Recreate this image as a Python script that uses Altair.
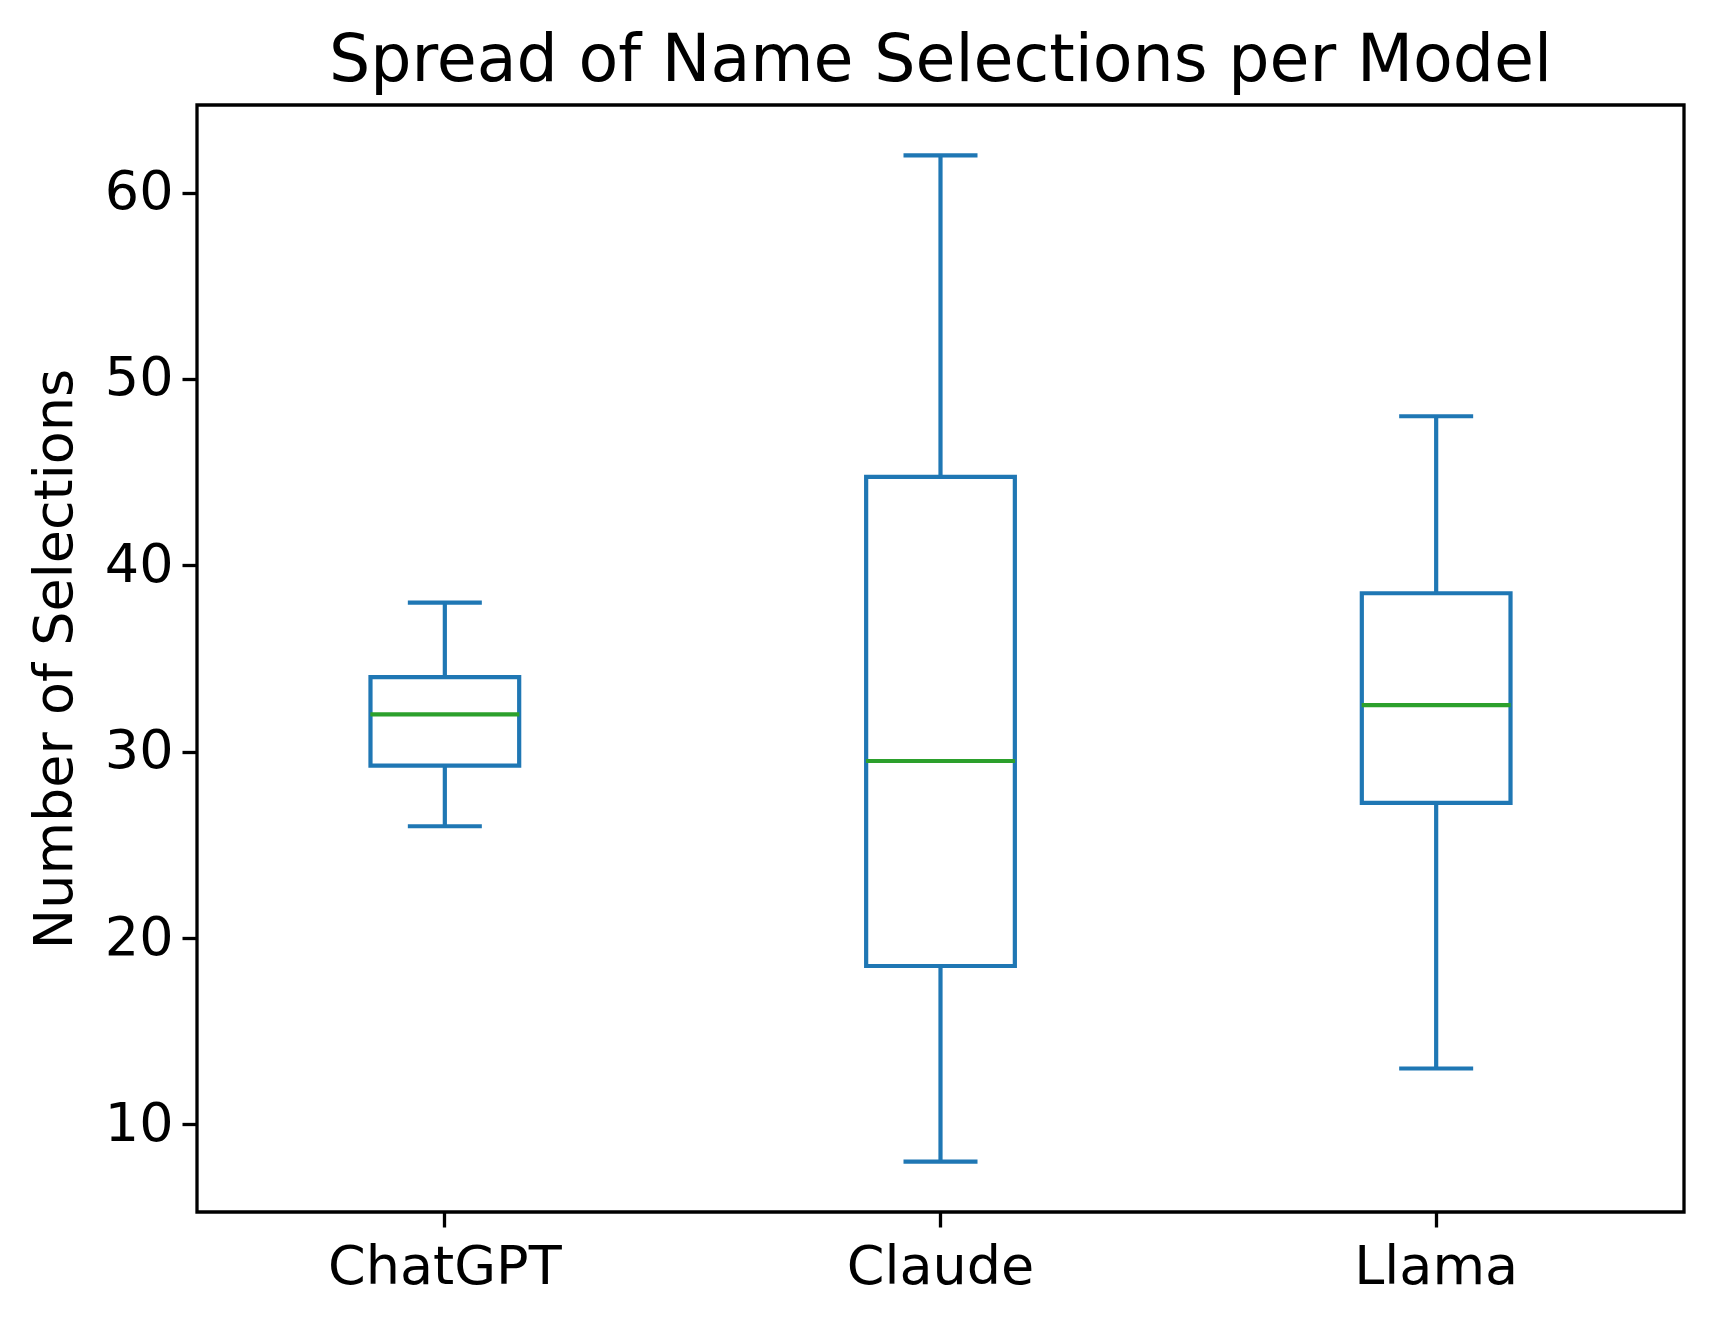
import altair as alt
import pandas as pd

models = ["ChatGPT", "Claude", "Llama"]
lower_whisker = [26, 8, 13]
q1 = [29.25, 18.5, 27.25]
median = [32, 29.5, 32.5]
q3 = [34, 44.75, 38.5]
upper_whisker = [38, 62, 48]
y_ticks = [10, 20, 30, 40, 50, 60]

df = pd.DataFrame({
    "model": models,
    "lower": lower_whisker,
    "q1": q1,
    "median": median,
    "q3": q3,
    "upper": upper_whisker,
})

BLUE = "#1f77b4"
GREEN = "#2ca02c"
FONT = "DejaVu Sans"
LW = 4.2

x_enc = alt.X(
    "model:N",
    sort=models,
    scale=alt.Scale(paddingInner=0.7, paddingOuter=0.35),
    axis=alt.Axis(
        title=None, labelAngle=0, labelFontSize=54, labelFont=FONT, labelColor="black",
        labelLimit=1000, tickSize=15, tickWidth=3.3, tickColor="black", labelPadding=13,
        domain=False, grid=False,
    ),
)
y_scale = alt.Scale(domain=[5.3, 64.7], nice=False, zero=False)
y_axis = alt.Axis(
    title="Number of Selections", values=y_ticks, titleFontSize=54, titleFont=FONT,
    titleFontWeight="normal", titleColor="black", titlePadding=22,
    labelFontSize=54, labelFont=FONT, labelColor="black", labelPadding=9,
    tickSize=15, tickWidth=3.3, tickColor="black", domain=False, grid=False,
)

base = alt.Chart(df)

whisker_low = base.mark_rule(color=BLUE, strokeWidth=LW).encode(
    x=x_enc, y=alt.Y("lower:Q", scale=y_scale, axis=y_axis), y2="q1:Q"
)
whisker_high = base.mark_rule(color=BLUE, strokeWidth=LW).encode(
    x=x_enc, y=alt.Y("q3:Q", scale=y_scale, axis=y_axis), y2="upper:Q"
)
box = base.mark_bar(fill="white", stroke=BLUE, strokeWidth=LW, opacity=1).encode(
    x=x_enc, y=alt.Y("q1:Q", scale=y_scale, axis=y_axis), y2="q3:Q"
)
med = base.mark_tick(color=GREEN, thickness=LW, size=149, opacity=1).encode(
    x=x_enc, y=alt.Y("median:Q", scale=y_scale, axis=y_axis)
)
cap_low = base.mark_tick(color=BLUE, thickness=LW, size=74, opacity=1).encode(
    x=x_enc, y=alt.Y("lower:Q", scale=y_scale, axis=y_axis)
)
cap_high = base.mark_tick(color=BLUE, thickness=LW, size=74, opacity=1).encode(
    x=x_enc, y=alt.Y("upper:Q", scale=y_scale, axis=y_axis)
)

chart = (
    alt.layer(whisker_low, whisker_high, box, med, cap_low, cap_high)
    .properties(
        width=1487,
        height=1107,
        title=alt.TitleParams(
            "Spread of Name Selections per Model", fontSize=65, font=FONT,
            fontWeight="normal", color="black", anchor="middle", offset=10,
        ),
        padding={"left": 20, "top": 21, "right": 20, "bottom": 10},
    )
    .configure_view(stroke="black", strokeWidth=3.3)
)

chart.save("out.html", embed_options={"renderer": "svg", "actions": False})
